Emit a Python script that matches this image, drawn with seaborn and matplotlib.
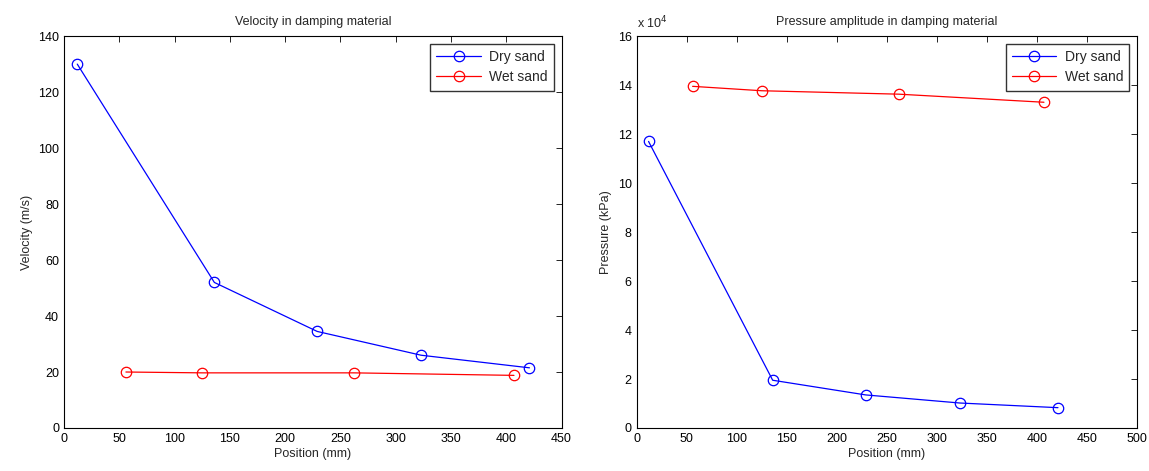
import matplotlib
matplotlib.use("Agg")
import matplotlib.pyplot as plt
import seaborn as sns
import pandas as pd
from matplotlib.ticker import FuncFormatter

sns.set_style("white")
plt.rcParams['font.family'] = ['Liberation Sans', 'DejaVu Sans']
plt.rcParams['font.size'] = 9

dry_pos = [12, 136, 229, 323, 421]
dry_vel = [130, 52, 34.5, 26, 21.5]
dry_pres = [117000, 19500, 13500, 10200, 8300]
wet_pos = [56, 125, 262, 407]
wet_vel = [20, 19.7, 19.7, 18.8]
wet_pres = [139500, 137700, 136300, 133000]

series = ["Dry sand", "Wet sand"]
colors = {"Dry sand": "#0000ff", "Wet sand": "#ff0000"}

df = pd.concat([
    pd.DataFrame({"pos": dry_pos, "vel": dry_vel, "pres": dry_pres, "s": "Dry sand"}),
    pd.DataFrame({"pos": wet_pos, "vel": wet_vel, "pres": wet_pres, "s": "Wet sand"}),
])

fig = plt.figure(figsize=(11.49, 4.71), dpi=100)
ax1 = fig.add_axes([0.0557, 0.0913, 0.433, 0.832])
ax2 = fig.add_axes([0.554, 0.0913, 0.4356, 0.832])

for ax, ycol in [(ax1, "vel"), (ax2, "pres")]:
    for s in series:
        d = df[df.s == s]
        sns.lineplot(data=d, x="pos", y=ycol, ax=ax, color=colors[s], marker="o",
                     markersize=7.5, markerfacecolor="none", markeredgecolor=colors[s],
                     markeredgewidth=0.9, linewidth=0.9, label=s, sort=False)
    for sp in ax.spines.values():
        sp.set_visible(True)
        sp.set_color("black")
        sp.set_linewidth(0.8)
    ax.tick_params(direction="in", top=True, right=True, length=4, width=0.6,
                   labelsize=9, colors="black")
    leg = ax.legend(loc="upper right", frameon=True, fancybox=False, fontsize=10,
                    edgecolor="black", borderpad=0.45, handlelength=3.2,
                    labelspacing=0.45, borderaxespad=0.55, handletextpad=0.6)
    leg.get_frame().set_linewidth(1.0)
    ax.set_xlabel("Position (mm)", fontsize=9, labelpad=2)

ax1.set_xlim(0, 450)
ax1.set_ylim(0, 140)
ax1.set_xticks(range(0, 451, 50))
ax1.set_yticks(range(0, 141, 20))
ax1.set_ylabel("Velocity (m/s)", fontsize=9)
ax1.set_title("Velocity in damping material", fontsize=9, pad=8)

ax2.set_xlim(0, 500)
ax2.set_ylim(0, 160000)
ax2.set_xticks(range(0, 501, 50))
ax2.set_yticks(range(0, 160001, 20000))
ax2.yaxis.set_major_formatter(FuncFormatter(lambda v, p: f"{v/1e4:g}"))
ax2.set_ylabel("Pressure (kPa)", fontsize=9)
ax2.set_title("Pressure amplitude in damping material", fontsize=9, pad=8)
ax2.text(0.0, 1.012, r"x 10$^{4}$", transform=ax2.transAxes, fontsize=9,
         ha="left", va="bottom")

fig.savefig("out.png", dpi=100)
